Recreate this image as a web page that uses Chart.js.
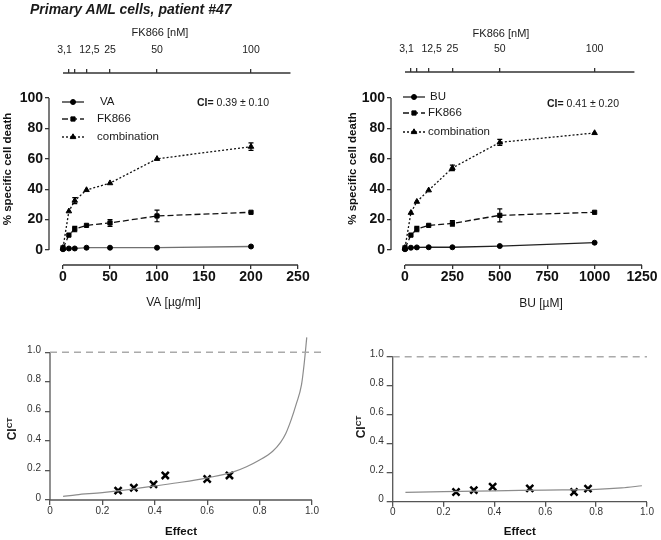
<!DOCTYPE html>
<html>
<head>
<meta charset="utf-8">
<title>Primary AML cells, patient #47</title>
<script src="https://cdn.jsdelivr.net/npm/chart.js@4.4.1/dist/chart.umd.min.js"></script>
<style>
  body { margin: 0; background: #fff; }
  #fig { position: relative; width: 661px; height: 540px; overflow: hidden; font-family: 'Liberation Sans', Arial, sans-serif; color: #1a1a1a; }
  #fig canvas { position: absolute; }
  .lbl { position: absolute; white-space: nowrap; transform: translate(-50%, -50%); line-height: 1; }
  .ci-title { font-weight: bold; font-size: 12px; transform: translate(-50%, -50%) rotate(-90deg); }
  .ci-title sup { font-size: 8px; line-height: 0; vertical-align: 4px; }
</style>
</head>
<body>
<div id="fig">
  <canvas id="vaChart" width="330" height="320" style="left:0px;top:0px"></canvas>
  <canvas id="buChart" width="331" height="320" style="left:330px;top:0px"></canvas>
  <canvas id="vaCiChart" width="330" height="220" style="left:0px;top:320px"></canvas>
  <canvas id="buCiChart" width="331" height="220" style="left:330px;top:320px"></canvas>

  <div style="position:absolute;left:30px;top:0.5px;font:italic bold 14px/16px 'Liberation Sans',Arial,sans-serif;white-space:nowrap">Primary AML cells, patient #47</div>
  <div class="lbl" style="left:160px;top:32px;font-size:11px">FK866 [nM]</div>
  <div class="lbl" style="left:501px;top:33px;font-size:11px">FK866 [nM]</div>
  <div class="lbl" style="left:541px;top:303px;font-size:12px">BU [µM]</div>
  <div class="lbl ci-title" style="left:12px;top:429px">CI<sup>CT</sup></div>
  <div class="lbl ci-title" style="left:361px;top:427px">CI<sup>CT</sup></div>
</div>

<script>
// FK866 concentrations on the top axes (nM)
const fkTicks = [3.125, 6.25, 12.5, 25, 50, 100]
// padded so the two crowded labels at the low end don't run together
const fkTickLabels = ['3,1   ', '', '  12,5', '25', '50', '100']
const deathTicks = [0, 20, 40, 60, 80, 100]

// VA panel
const vaConc = [0, 6.25, 12.5, 25, 50, 100, 200]
const vaTicks = [0, 50, 100, 150, 200, 250]
const vaAlone = [0.5, 1, 1, 1.5, 1.5, 1.5, 2.3]
const vaAloneErr = [0.5, 0, 0, 0, 0, 0, 0]
const vaFk = [1, 9.8, 13.8, 16.2, 17.8, 22.4, 24.8]
const vaFkErr = [0.8, 0, 1.8, 0, 2.2, 3.8, 0]
const vaComb = [1.5, 25.5, 32.5, 39.5, 44, 60, 68]
const vaCombErr = [1.2, 0, 2, 0, 0, 0, 2.5]
const ciVA = '0.39 ± 0.10'

// BU panel
const buConc = [0, 31.25, 62.5, 125, 250, 500, 1000]
const buTicks = [0, 250, 500, 750, 1000, 1250]
const buAlone = [0.5, 1.5, 1.7, 1.8, 1.8, 2.6, 4.8]
const buAloneErr = [0.5, 0, 0, 0, 0, 0, 0]
const buFk = [1, 9.8, 13.8, 16.2, 17.5, 22.8, 24.8]
const buFkErr = [0.8, 0, 1.8, 0, 1.8, 4.3, 0]
const buComb = [1.5, 24.5, 31.8, 39.3, 54, 70.8, 77]
const buCombErr = [1.2, 0, 0, 0, 1.8, 2, 0]
const ciBU = '0.41 ± 0.20'

// CI(CT) vs effect plots
const effectTicks = [0, 0.2, 0.4, 0.6, 0.8, 1.0]
const ciTicks = [0, 0.2, 0.4, 0.6, 0.8, 1.0]
const additiveCI = [1, 1]
const vaAdditiveEffect = [0, 1.035]
const vaCurveEffect = [0.05, 0.1, 0.2, 0.3, 0.4, 0.5, 0.6, 0.7, 0.75, 0.8, 0.85, 0.88, 0.9, 0.92, 0.94, 0.96, 0.97, 0.98]
const vaCurveCI = [0.025, 0.035, 0.05, 0.07, 0.095, 0.12, 0.15, 0.19, 0.225, 0.27, 0.33, 0.39, 0.45, 0.54, 0.65, 0.78, 0.92, 1.1]
const vaPointEffect = [0.26, 0.32, 0.395, 0.44, 0.6, 0.685]
const vaPointCI = [0.063, 0.083, 0.106, 0.166, 0.142, 0.166]
const buAdditiveEffect = [0, 1]
const buCurveEffect = [0.05, 0.2, 0.4, 0.6, 0.8, 0.9, 0.98]
const buCurveCI = [0.065, 0.07, 0.075, 0.08, 0.085, 0.095, 0.11]
const buPointEffect = [0.249, 0.319, 0.393, 0.539, 0.713, 0.768]
const buPointCI = [0.067, 0.08, 0.103, 0.092, 0.067, 0.09]

Chart.defaults.font.family = "'Liberation Sans', Arial, sans-serif"
Chart.defaults.color = '#1a1a1a'

const toPoints = (xs, ys) => xs.map((x, i) => ({ x, y: ys[i] }))
const fixedTicks = values => scale => { scale.ticks = values.map(value => ({ value })) }
const plainLabel = v => String(v)
const decimalLabel = v => (v === 0 ? '0' : v.toFixed(1))
const drawPoint = (Chart.helpers && Chart.helpers.drawPoint) || ((c, o, x, y) => {
  c.beginPath()
  c.arc(x, y, o.radius, 0, Math.PI * 2)
  c.fill()
})

// axis lines only over the data span, so the axes don't meet (prism style)
const axisLines = (lines, color) => ({
  id: 'axisLines',
  beforeDatasetsDraw(chart) {
    const { ctx, chartArea, scales } = chart
    ctx.save()
    ctx.strokeStyle = color
    ctx.lineWidth = 1.3
    lines.forEach(({ id, from, to }) => {
      const scale = scales[id]
      const a = scale.getPixelForValue(from)
      const b = scale.getPixelForValue(to)
      ctx.beginPath()
      if (scale.isHorizontal()) {
        const y = scale.options.position === 'top' ? chartArea.top : chartArea.bottom
        ctx.moveTo(a, y)
        ctx.lineTo(b, y)
      } else {
        ctx.moveTo(chartArea.left, a)
        ctx.lineTo(chartArea.left, b)
      }
      ctx.stroke()
    })
    ctx.restore()
  }
})

const errorBars = {
  id: 'errorBars',
  afterDatasetsDraw(chart) {
    const { ctx, scales } = chart
    ctx.save()
    ctx.strokeStyle = '#000'
    ctx.lineWidth = 1.2
    chart.data.datasets.forEach(ds => {
      if (!ds.errors) return
      ds.data.forEach((p, i) => {
        const err = ds.errors[i]
        if (!err) return
        const x = scales.x.getPixelForValue(p.x)
        const hi = scales.y.getPixelForValue(p.y + err)
        const lo = scales.y.getPixelForValue(p.y - err)
        ctx.beginPath()
        ctx.moveTo(x, hi)
        ctx.lineTo(x, lo)
        ctx.moveTo(x - 2.5, hi)
        ctx.lineTo(x + 2.5, hi)
        ctx.moveTo(x - 2.5, lo)
        ctx.lineTo(x + 2.5, lo)
        ctx.stroke()
      })
    })
    ctx.restore()
  }
}

// legend with line + marker samples, plus the CI annotation
const lineLegend = spec => ({
  id: 'lineLegend',
  afterDraw(chart) {
    const { ctx } = chart
    const family = Chart.defaults.font.family
    ctx.save()
    ctx.textBaseline = 'middle'
    chart.data.datasets.forEach((ds, i) => {
      const y = spec.rows[i]
      ctx.strokeStyle = spec.lineColor || ds.borderColor
      ctx.lineWidth = ds.borderWidth
      ctx.setLineDash(ds.borderDash || [])
      ctx.beginPath()
      ctx.moveTo(spec.x0, y)
      ctx.lineTo(spec.x1, y)
      ctx.stroke()
      ctx.setLineDash([])
      ctx.fillStyle = '#000'
      ctx.strokeStyle = '#000'
      ctx.lineWidth = 1
      drawPoint(ctx, { pointStyle: ds.pointStyle, radius: ds.pointRadius, rotation: 0, borderWidth: 1 }, (spec.x0 + spec.x1) / 2, y)
      ctx.font = `11.5px ${family}`
      ctx.fillStyle = '#1a1a1a'
      ctx.fillText(ds.label, spec.tx[i], y)
    })
    ctx.font = `bold 10.5px ${family}`
    ctx.fillText('CI=', spec.ci.x, spec.ci.y)
    const w = ctx.measureText('CI= ').width
    ctx.font = `10.5px ${family}`
    ctx.fillText(spec.ci.text, spec.ci.x + w, spec.ci.y)
    ctx.restore()
  }
})

function doseChart(id, conc, s, o) {
  const datasets = [
    { label: o.drug, data: toPoints(conc, s.alone), errors: s.aloneErr, borderColor: o.aloneColor, pointStyle: 'circle', pointRadius: 2.5 },
    { label: 'FK866', data: toPoints(conc, s.fk), errors: s.fkErr, borderDash: [6, 3], pointStyle: 'rect', pointRadius: 3 },
    { label: 'combination', data: toPoints(conc, s.comb), errors: s.combErr, borderDash: [2, 2], pointStyle: 'triangle', pointRadius: 3.2 }
  ].map(ds => ({
    borderColor: '#111',
    borderWidth: 1.3,
    pointBackgroundColor: '#000',
    pointBorderColor: '#000',
    pointBorderWidth: 1,
    tension: 0,
    xAxisID: 'x',
    yAxisID: 'y',
    ...ds
  }))

  const tickGrid = { drawOnChartArea: false, tickLength: 4, color: '#333', lineWidth: 1.3 }

  return new Chart(document.getElementById(id), {
    type: 'line',
    data: { datasets },
    options: {
      responsive: false,
      animation: false,
      events: [],
      layout: { padding: o.padding },
      plugins: { legend: { display: false }, tooltip: { enabled: false } },
      scales: {
        x: {
          type: 'linear',
          min: o.xRange[0],
          max: o.xRange[1],
          afterBuildTicks: fixedTicks(o.xTicks),
          afterFit: sc => { sc.height = 45 },
          border: { display: false },
          grid: tickGrid,
          ticks: { autoSkip: false, maxRotation: 0, padding: 0, color: '#111', font: { size: 14, weight: 'bold' }, callback: plainLabel },
          title: { display: !!o.xTitle, text: o.xTitle || '', color: '#1a1a1a', font: { size: 12 }, padding: 0 }
        },
        fk: {
          type: 'linear',
          axis: 'x',
          position: 'top',
          min: o.fkRange[0],
          max: o.fkRange[1],
          afterBuildTicks: fixedTicks(fkTicks),
          afterFit: sc => { sc.height = o.fkHeight },
          border: { display: false },
          grid: tickGrid,
          ticks: { autoSkip: false, maxRotation: 0, padding: o.fkPad, color: '#222', font: { size: 10.5 }, callback: (v, i) => fkTickLabels[i] }
        },
        y: {
          type: 'linear',
          min: o.yRange[0],
          max: o.yRange[1],
          afterBuildTicks: fixedTicks(deathTicks),
          afterFit: sc => { sc.width = o.yWidth },
          border: { display: false },
          grid: tickGrid,
          ticks: { autoSkip: false, padding: 2, color: '#111', font: { size: 14, weight: 'bold' }, callback: plainLabel },
          title: { display: true, text: '% specific cell death', color: '#111', font: { size: 11.5, weight: 'bold' }, padding: { top: o.yTitlePad, bottom: 0 } }
        }
      }
    },
    plugins: [
      axisLines([
        { id: 'y', from: 0, to: 100 },
        { id: 'x', from: 0, to: o.xTicks[o.xTicks.length - 1] },
        { id: 'fk', from: 0, to: 121 }
      ], '#333'),
      errorBars,
      lineLegend(o.legend)
    ]
  })
}

function ciChart(id, additiveEffect, curve, pts, o) {
  return new Chart(document.getElementById(id), {
    type: 'line',
    data: {
      datasets: [
        { data: toPoints(additiveEffect, additiveCI), borderColor: '#aaaaaa', borderWidth: 1.5, borderDash: [7, 5], pointRadius: 0, clip: false },
        { data: toPoints(curve.x, curve.y), borderColor: '#8c8c8c', borderWidth: 1.2, pointRadius: 0, cubicInterpolationMode: 'monotone' },
        { type: 'scatter', data: toPoints(pts.x, pts.y), pointStyle: 'crossRot', pointRadius: 5, pointBorderWidth: 2.5, pointBorderColor: '#000', pointBackgroundColor: '#000' }
      ]
    },
    options: {
      responsive: false,
      animation: false,
      events: [],
      layout: { padding: o.padding },
      plugins: { legend: { display: false }, tooltip: { enabled: false } },
      scales: {
        x: {
          type: 'linear',
          min: 0,
          max: 1,
          afterBuildTicks: fixedTicks(effectTicks),
          afterFit: sc => { sc.height = o.xHeight },
          border: { display: false },
          grid: { drawOnChartArea: false, tickLength: 5, color: '#555', lineWidth: 1.3 },
          ticks: { autoSkip: false, maxRotation: 0, padding: 0, color: '#333', font: { size: 10 }, callback: decimalLabel },
          title: { display: true, text: 'Effect', color: '#111', font: { size: 11.5, weight: 'bold' }, padding: { top: 0, bottom: 1 } }
        },
        y: {
          type: 'linear',
          min: 0,
          max: 1.15,
          afterBuildTicks: fixedTicks(ciTicks),
          afterFit: sc => { sc.width = o.yWidth },
          border: { display: false },
          grid: { drawOnChartArea: false, tickLength: o.yTick, color: '#555', lineWidth: 1.3 },
          ticks: { autoSkip: false, padding: o.yPad, labelOffset: -2, color: '#333', font: { size: 10 }, callback: decimalLabel }
        }
      }
    },
    plugins: [
      axisLines([
        { id: 'y', from: 0, to: 1 },
        { id: 'x', from: 0, to: 1 }
      ], '#555')
    ]
  })
}

doseChart('vaChart', vaConc,
  { alone: vaAlone, aloneErr: vaAloneErr, fk: vaFk, fkErr: vaFkErr, comb: vaComb, combErr: vaCombErr },
  {
    drug: 'VA',
    aloneColor: '#707070',
    xTitle: 'VA [µg/ml]',
    xTicks: vaTicks,
    xRange: [-14.9, 250],
    fkRange: [-7.45, 125],
    yRange: [-9.87, 116.45],
    padding: { left: 0, top: 20, right: 32, bottom: 10 },
    yWidth: 49,
    fkHeight: 53,
    fkPad: 12.5,
    yTitlePad: 1.1,
    legend: { x0: 62, x1: 84, tx: [100, 97, 97], rows: [102, 119, 137], lineColor: '#222', ci: { x: 197, y: 103, text: ciVA } }
  })

doseChart('buChart', buConc,
  { alone: buAlone, aloneErr: buAloneErr, fk: buFk, fkErr: buFkErr, comb: buComb, combErr: buCombErr },
  {
    drug: 'BU',
    aloneColor: '#222',
    xTicks: buTicks,
    xRange: [-73.8, 1250],
    fkRange: [-7.38, 125],
    yRange: [-9.87, 117.1],
    padding: { left: 0, top: 20, right: 19, bottom: 10 },
    yWidth: 61,
    fkHeight: 52,
    fkPad: 13,
    yTitlePad: 16,
    legend: { x0: 73, x1: 95, tx: [100, 98, 98], rows: [97, 113, 132], ci: { x: 217, y: 104, text: ciBU } }
  })

ciChart('vaCiChart', vaAdditiveEffect,
  { x: vaCurveEffect, y: vaCurveCI },
  { x: vaPointEffect, y: vaPointCI },
  { padding: { left: 0, top: 9.2, right: 18, bottom: 0 }, yWidth: 50, xHeight: 40, yTick: 5, yPad: 4 })

ciChart('buCiChart', buAdditiveEffect,
  { x: buCurveEffect, y: buCurveCI },
  { x: buPointEffect, y: buPointCI },
  { padding: { left: 0, top: 15, right: 14, bottom: 0 }, yWidth: 62.7, xHeight: 38.3, yTick: 6, yPad: 3 })
</script>
</body>
</html>
